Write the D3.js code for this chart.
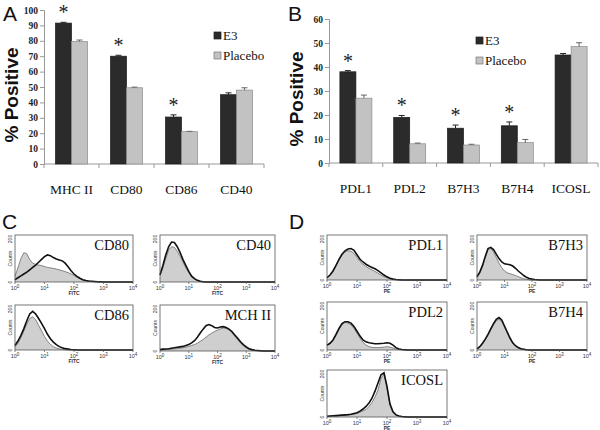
<!DOCTYPE html>
<html><head><meta charset="utf-8">
<script src="https://cdn.jsdelivr.net/npm/d3@7/dist/d3.min.js"></script>
<style>body{margin:0;background:#fff}svg{display:block}</style>
</head><body>
<svg id="c" width="600" height="430"></svg>
<script>
// ---------- DATA ----------
const catsA = ["MHC II","CD80","CD86","CD40"];
const e3A = [91.5,70,30.5,45];
const plA = [79.5,49.5,21,48];
const e3ErrA = [0.5,0.6,1.4,1.2];
const plErrA = [1.0,0.4,0.2,1.5];
const starA = [true,true,true,false];
const yTicksA = [0,10,20,30,40,50,60,70,80,90,100];

const catsB = ["PDL1","PDL2","B7H3","B7H4","ICOSL"];
const e3B = [38,19,14.5,15.5,45];
const plB = [27,8,7.5,8.5,48.5];
const e3ErrB = [0.5,0.8,1.3,1.6,0.6];
const plErrB = [1.3,0.3,0.3,1.3,1.6];
const starB = [true,true,true,true,false];
const yTicksB = [0,10,20,30,40,50,60];

const legendLabels = ["E3","Placebo"];

// histogram x grid (log10 of fluorescence)
const histLog = [0,0.1,0.2,0.3,0.4,0.5,0.6,0.7,0.8,0.9,1,1.1,1.2,1.3,1.4,1.5,1.6,1.7,1.8,1.9,2,2.1,2.2,2.3,2.4,2.5,2.6,2.7,2.8,2.9,3,3.1,3.2,3.3,3.4,3.5,3.6,3.7,3.8,3.9,4];
const decadeTicks = [0,1,2,3,4];

const cd80Grey  = [25,60,100,125,120,95,80,75,72,70, 66,62,60,58,55,52,48,44,40,34, 28,20,14,9,6,4,2,1,1,0, 0,0,0,0,0,0,0,0,0,0,0];
const cd80Black = [10,18,26,34,42,52,62,72,84,96, 108,115,112,104,98,94,90,80,65,48, 34,24,16,10,6,4,3,2,1,1, 0,0,0,0,0,0,0,0,0,0,0];
const cd40Grey  = [30,60,100,135,150,148,130,110,85,60, 40,22,12,6,3,1,0,0,0,0, 0,0,0,0,0,0,0,0,0,0, 0,0,0,0,0,0,0,0,0,0,0];
const cd40Black = [30,70,115,150,170,168,150,125,95,70, 45,25,14,7,3,1,0,0,0,0, 0,0,0,0,0,0,0,0,0,0, 0,0,0,0,0,0,0,0,0,0,0];
const cd86Grey  = [15,30,55,85,115,140,148,135,110,85, 60,40,25,15,9,5,3,1,0,0, 0,0,0,0,0,0,0,0,0,0, 0,0,0,0,0,0,0,0,0,0,0];
const cd86Black = [20,40,65,95,130,160,172,160,140,118, 95,70,50,35,24,15,10,6,4,2, 1,0,0,0,0,0,0,0,0,0, 0,0,0,0,0,0,0,0,0,0,0];
const mhcGrey   = [4,5,6,7,8,9,10,12,14,17, 20,24,28,34,42,50,60,70,78,85, 90,96,100,98,92,80,65,50,35,22, 13,7,4,2,1,0,0,0,0,0,0];
const mhcBlack  = [6,8,9,10,12,14,16,18,20,24, 28,35,45,60,78,95,110,115,110,102, 100,104,106,102,95,85,70,55,40,28, 18,10,6,3,2,1,0,0,0,0,0];
const pdl1Grey  = [10,22,40,65,90,110,125,130,128,118, 100,82,70,60,52,45,38,30,22,15, 10,6,3,1,0,0,0,0,0,0, 0,0,0,0,0,0,0,0,0,0,0];
const pdl1Black = [10,22,40,65,92,115,130,138,140,132, 112,92,80,70,62,56,50,42,32,22, 14,8,4,2,1,0,0,0,0,0, 0,0,0,0,0,0,0,0,0,0,0];
const b7h3Grey  = [10,30,60,100,135,140,125,100,75,55, 40,32,28,24,20,15,10,6,3,1, 0,0,0,0,0,0,0,0,0,0, 0,0,0,0,0,0,0,0,0,0,0];
const b7h3Black = [15,35,65,105,140,145,135,115,95,80, 72,70,68,62,52,40,30,20,12,7, 4,2,1,0,0,0,0,0,0,0, 0,0,0,0,0,0,0,0,0,0,0];
const pdl2Grey  = [20,25,40,60,85,105,115,112,105,90, 70,50,32,20,14,11,10,10,11,12, 14,12,8,4,2,1,0,0,0,0, 0,0,0,0,0,0,0,0,0,0,0];
const pdl2Black = [20,28,42,65,90,110,118,118,112,98, 78,58,42,34,30,28,26,26,27,28, 30,28,20,10,4,2,1,0,0,0, 0,0,0,0,0,0,0,0,0,0,0];
const b7h4Grey  = [5,12,25,42,62,85,105,122,128,118, 95,70,45,28,15,8,4,2,1,0, 0,0,0,0,0,0,0,0,0,0, 0,0,0,0,0,0,0,0,0,0,0];
const b7h4Black = [5,14,28,45,65,88,110,128,135,125, 100,75,50,30,18,10,5,3,1,0, 0,0,0,0,0,0,0,0,0,0, 0,0,0,0,0,0,0,0,0,0,0];
const icoslGrey = [2,3,4,5,6,7,8,9,10,12, 15,20,26,32,45,62,85,115,165,182, 120,50,20,8,3,1,0,0,0,0, 0,0,0,0,0,0,0,0,0,0,0];
const icoslBlack= [3,4,5,6,7,8,9,10,12,15, 18,25,34,45,60,80,110,145,180,188, 130,55,22,9,4,2,1,0,0,0, 0,0,0,0,0,0,0,0,0,0,0];

// ---------- DRAW ----------
const svg = d3.select("#c");
const SERIF = "'Liberation Serif','Times New Roman',serif";
const SANS = "'Liberation Sans',Arial,sans-serif";
const DARK = "#2b2b2b", LIGHT = "#c2c2c2";

function barPanel(o){
  const x = d3.scaleBand().domain(o.cats).range([o.x0,o.x1]).paddingInner(0).paddingOuter(0);
  const y = d3.scaleLinear().domain([0,o.yMax]).range([o.y0,o.yTop]);
  const g = svg.append("g");
  // y axis
  const ya = g.append("g").attr("transform",`translate(${o.x0},0)`)
    .call(d3.axisLeft(y).tickValues(o.yTicks).tickSize(4).tickPadding(2));
  ya.select(".domain").attr("stroke","#999");
  ya.selectAll(".tick line").attr("stroke","#999");
  ya.selectAll("text").attr("font-family",SERIF).attr("font-weight","bold").attr("font-size",9.5).attr("fill","#222");
  // x axis
  g.append("line").attr("x1",o.x0).attr("x2",o.x1).attr("y1",o.y0).attr("y2",o.y0).attr("stroke","#999");
  const bounds = o.cats.map(c=>x(c)).concat([o.x1]);
  g.selectAll(".xt").data(bounds).join("line")
    .attr("x1",d=>d).attr("x2",d=>d).attr("y1",o.y0).attr("y2",o.y0+4).attr("stroke","#999");
  const bw = 16;
  const inner = d3.scaleBand().domain(["e3","pl"]).range([0,2*bw]);
  const off = (x.bandwidth()-2*bw)/2;
  o.cats.forEach((c,i)=>{
    const bx = x(c)+off;
    const series = [
      {k:"e3",v:o.e3[i],err:o.e3Err[i],fill:DARK,stroke:"#1a1a1a",ec:"#222"},
      {k:"pl",v:o.pl[i],err:o.plErr[i],fill:LIGHT,stroke:"#8a8a8a",ec:"#666"}];
    series.forEach(s=>{
      const lx = bx+inner(s.k);
      g.append("rect").attr("x",lx).attr("width",bw).attr("y",y(s.v)).attr("height",y(0)-y(s.v))
        .attr("fill",s.fill).attr("stroke",s.stroke).attr("stroke-width",0.7);
      if(s.err>0){
        const cx = lx+bw/2;
        g.append("line").attr("x1",cx).attr("x2",cx).attr("y1",y(s.v)).attr("y2",y(s.v+s.err)).attr("stroke",s.ec);
        g.append("line").attr("x1",cx-3).attr("x2",cx+3).attr("y1",y(s.v+s.err)).attr("y2",y(s.v+s.err)).attr("stroke",s.ec);
      }
    });
    if(o.star[i]){
      g.append("text").attr("x",bx+bw/2).attr("y",y(o.e3[i]+o.e3Err[i])-3)
        .attr("text-anchor","middle").attr("font-family",SERIF).attr("font-size",20).attr("fill","#222").text("*");
    }
    g.append("text").attr("x",x(c)+x.bandwidth()/2).attr("y",o.y0+30)
      .attr("text-anchor","middle").attr("font-family",SERIF).attr("font-size",13.5).attr("fill","#111").text(c);
  });
  // legend
  legendLabels.forEach((l,i)=>{
    const ly = o.legY + i*20;
    g.append("rect").attr("x",o.legX).attr("y",ly-8).attr("width",7).attr("height",7)
      .attr("fill",i===0?DARK:LIGHT).attr("stroke",i===0?"#1a1a1a":"#777").attr("stroke-width",0.7);
    g.append("text").attr("x",o.legX+9).attr("y",ly).attr("font-family",SERIF).attr("font-size",13).attr("fill","#111").text(l);
  });
  // y title
  g.append("text").attr("transform",`translate(${o.titleX},${(o.y0+o.yTop)/2+8}) rotate(-90)`)
    .attr("text-anchor","middle").attr("font-family",SANS).attr("font-weight","bold").attr("font-size",19).attr("fill","#111")
    .text("% Positive");
}

barPanel({cats:catsA,e3:e3A,pl:plA,e3Err:e3ErrA,plErr:plErrA,star:starA,yTicks:yTicksA,yMax:100,
  x0:44,x1:264,y0:164,yTop:10,legX:214,legY:40,titleX:18});
barPanel({cats:catsB,e3:e3B,pl:plB,e3Err:e3ErrB,plErr:plErrB,star:starB,yTicks:yTicksB,yMax:60,
  x0:329,x1:598,y0:163,yTop:19,legX:476,legY:45,titleX:303});

// panel letters
[["A",3,21],["B",288,21],["C",2,229],["D",289,229]].forEach(([t,x,y])=>{
  svg.append("text").attr("x",x).attr("y",y).attr("font-family",SANS).attr("font-size",21).attr("fill","#111").text(t);
});

function hist(b,label,xl,grey,black){
  const x = d3.scaleLinear().domain([0,4]).range([b.x,b.x+b.w]);
  const y = d3.scaleLinear().domain([0,200]).range([b.y+b.h,b.y]);
  const g = svg.append("g");
  const pts = (arr)=>arr.map((v,i)=>[histLog[i],v]);
  g.append("path").datum(pts(grey))
    .attr("d",d3.area().x(d=>x(d[0])).y0(y(0)).y1(d=>y(d[1])))
    .attr("fill","#cfcfcf");
  g.append("path").datum(pts(grey))
    .attr("d",d3.line().x(d=>x(d[0])).y(d=>y(d[1])))
    .attr("fill","none").attr("stroke","#6a6a6a").attr("stroke-width",0.8);
  g.append("path").datum(pts(black))
    .attr("d",d3.line().x(d=>x(d[0])).y(d=>y(d[1])))
    .attr("fill","none").attr("stroke","#111").attr("stroke-width",1.6);
  g.append("rect").attr("x",b.x).attr("y",b.y).attr("width",b.w).attr("height",b.h)
    .attr("fill","none").attr("stroke","#555").attr("stroke-width",0.8);
  // ticks
  decadeTicks.forEach(d=>{
    g.append("line").attr("x1",x(d)).attr("x2",x(d)).attr("y1",b.y+b.h).attr("y2",b.y+b.h+2).attr("stroke","#555").attr("stroke-width",0.7);
    const t = g.append("text").attr("x",x(d)).attr("y",b.y+b.h+8).attr("text-anchor","middle")
      .attr("font-family",SANS).attr("font-size",5.5).attr("fill","#333");
    t.append("tspan").text("10");
    t.append("tspan").attr("dy",-2).attr("font-size",4.5).text(String(d));
  });
  g.append("text").attr("x",x(2)).attr("y",b.y+b.h+13).attr("text-anchor","middle")
    .attr("font-family",SANS).attr("font-size",5).attr("font-weight","bold").attr("fill","#333").text(xl);
  const yl = (txt,yy)=>g.append("text").attr("transform",`translate(${b.x-3},${yy}) rotate(-90)`)
    .attr("text-anchor","middle").attr("font-family",SANS).attr("font-size",5).attr("fill","#333").text(txt);
  yl("200",y(200)+4); yl("0",y(0)); yl("Counts",(y(0)+y(200))/2);
  g.append("text").attr("x",b.x+b.w-4).attr("y",b.y+15).attr("text-anchor","end")
    .attr("font-family",SERIF).attr("font-size",14.5).attr("fill","#111").text(label);
}

hist({x:15,y:235,w:118,h:47},"CD80","FITC",cd80Grey,cd80Black);
hist({x:160,y:235,w:115,h:47},"CD40","FITC",cd40Grey,cd40Black);
hist({x:15,y:305,w:118,h:45},"CD86","FITC",cd86Grey,cd86Black);
hist({x:160,y:305,w:115,h:46},"MCH II","FITC",mhcGrey,mhcBlack);
hist({x:327,y:235,w:120,h:45},"PDL1","PE",pdl1Grey,pdl1Black);
hist({x:477,y:235,w:110,h:45},"B7H3","PE",b7h3Grey,b7h3Black);
hist({x:327,y:302,w:120,h:48},"PDL2","PE",pdl2Grey,pdl2Black);
hist({x:477,y:302,w:110,h:48},"B7H4","PE",b7h4Grey,b7h4Black);
hist({x:327,y:370,w:120,h:47},"ICOSL","PE",icoslGrey,icoslBlack);
</script>
</body></html>
